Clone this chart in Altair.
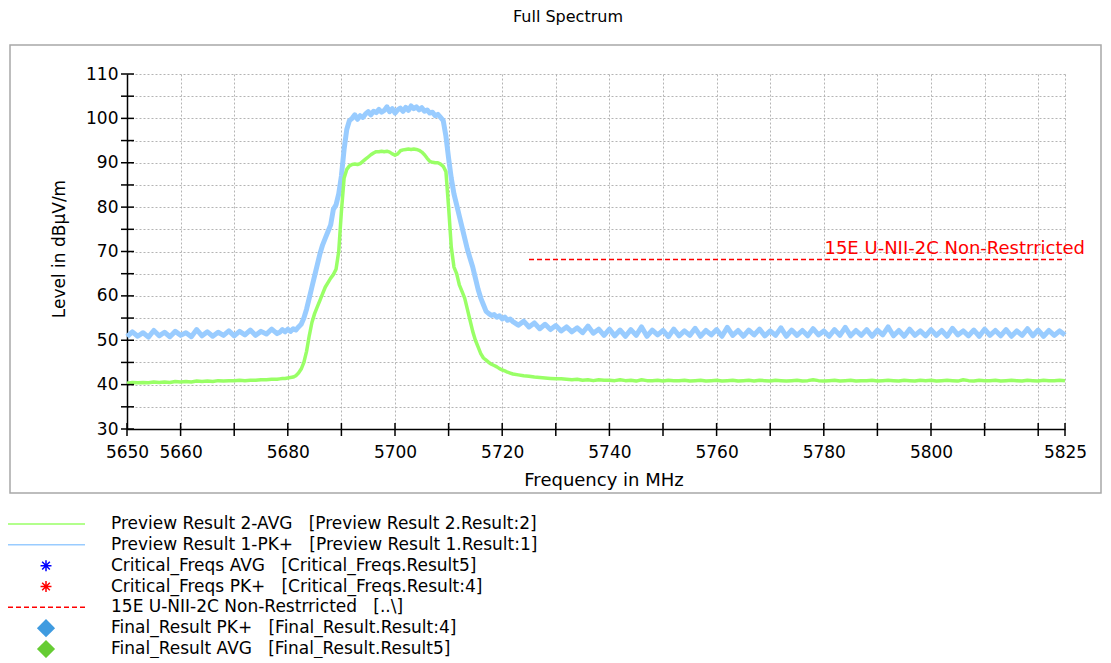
import altair as alt
import pandas as pd

FONT = "DejaVu Sans"
NB = "\u00a0"

# ---------------- data ----------------
# frequency grid (MHz): 1 MHz steps on the flat parts, 0.5 MHz across the emission
freq_a = list(range(5650, 5679))
freq_b = [5678.5 + 0.5 * i for i in range(88)]
freq_c = list(range(5723, 5826))

# Preview Result 1-PK+ (dBuV/m)
pk_a = [50.8, 51.9, 50.9, 51.7, 50.7, 52.2, 51.0, 51.8, 50.8, 52.0,
        51.1, 51.7, 50.8, 52.4, 51.0, 51.9, 50.9, 51.8, 51.1, 52.1,
        51.0, 52.0, 51.2, 52.3, 51.1, 52.0, 51.4, 52.5, 51.5]
pk_b = [51.8, 52.4, 51.9, 52.5, 52.0, 52.6, 52.3, 53.0, 53.6, 55.0,
        57.0, 59.5, 62.0, 64.5, 67.0, 69.5, 71.5, 73.0, 74.5, 76.0,
        79.5, 80.5, 83.0, 87.0, 93.0, 97.5, 99.5, 100.0, 100.8, 99.8,
        100.6, 100.2, 101.0, 101.5, 100.8, 101.6, 101.3, 102.0, 101.4, 101.8,
        102.6, 101.5, 102.2, 101.2, 101.9, 102.3, 101.6, 102.5, 101.8, 102.8,
        102.2, 102.6, 101.9, 102.4, 101.6, 101.9, 101.2, 101.4, 100.6, 100.9,
        100.2, 99.5, 96.0, 91.0, 86.5, 83.0, 80.5, 78.0, 75.5, 73.0,
        70.5, 68.5, 66.5, 64.0, 61.5, 59.5, 58.0, 56.5, 56.0, 55.6,
        55.8, 55.2, 55.5, 54.8, 55.2, 54.5, 54.8, 54.2]
pk_c = [53.4, 54.3, 53.0, 53.9, 52.6, 53.6, 52.4, 53.3, 52.1, 53.0,
        51.9, 52.8, 51.7, 53.2, 51.6, 52.5, 51.1, 52.5, 51.0, 52.3,
        50.9, 52.4, 51.1, 53.0, 50.9, 52.3, 51.2, 52.2, 50.8, 52.5,
        51.0, 52.1, 51.1, 52.7, 50.9, 52.2, 51.2, 52.4, 50.9, 52.9,
        51.1, 52.2, 50.9, 52.3, 51.2, 52.5, 51.0, 52.1, 51.1, 52.8,
        50.9, 52.3, 51.1, 52.2, 51.0, 52.6, 51.2, 52.1, 50.9, 52.4,
        51.1, 52.9, 51.0, 52.2, 51.1, 52.4, 50.9, 52.3, 51.2, 53.0,
        51.0, 52.2, 50.9, 52.5, 51.1, 52.1, 51.0, 52.4, 51.1, 52.2,
        50.9, 52.7, 51.2, 52.1, 51.0, 52.3, 50.9, 52.5, 51.1, 52.2,
        51.0, 52.4, 50.9, 52.1, 51.1, 52.6, 51.0, 52.3, 50.9, 52.2,
        51.1, 52.1, 51.2]

# Preview Result 2-AVG (dBuV/m)
avg_a = [40.3, 40.5, 40.4, 40.5, 40.4, 40.6, 40.5, 40.6, 40.5, 40.7,
         40.6, 40.7, 40.6, 40.8, 40.7, 40.8, 40.7, 40.9, 40.8, 40.9,
         40.9, 41.0, 40.9, 41.0, 41.0, 41.1, 41.1, 41.2, 41.2]
avg_b = [41.3, 41.4, 41.4, 41.5, 41.6, 41.7, 42.0, 42.6, 43.5, 45.0,
         47.5, 51.0, 54.0, 56.0, 57.5, 59.0, 60.5, 62.0, 63.0, 64.0,
         64.8, 66.0, 70.0, 79.0, 86.5, 88.5, 89.3, 89.6, 89.7, 89.6,
         89.8, 90.3, 90.8, 91.3, 91.8, 92.2, 92.5, 92.5, 92.6, 92.5,
         92.6, 92.4, 92.0, 91.7, 92.0, 92.7, 92.9, 93.0, 93.1, 93.0,
         93.1, 93.0, 92.8, 92.4, 91.8, 91.0, 90.3, 90.1, 90.0, 90.0,
         89.7, 89.2, 88.0, 80.0, 71.0, 66.5, 65.0, 62.5, 61.0, 59.5,
         57.0, 54.5, 52.0, 50.0, 48.5, 47.0, 46.0, 45.5, 45.0, 44.6,
         44.3, 44.0, 43.6, 43.3, 43.1, 42.8, 42.6, 42.4]
avg_c = [42.2, 42.0, 41.9, 41.7, 41.6, 41.5, 41.4, 41.3, 41.3, 41.2,
         41.1, 41.2, 41.0, 41.1, 40.9, 41.1, 41.0, 41.0, 40.9, 41.1,
         40.9, 41.0, 40.8, 41.1, 40.9, 40.9, 41.0, 40.8, 41.0, 40.9,
         40.9, 41.0, 40.8, 40.9, 41.0, 40.8, 40.9, 41.0, 40.8, 40.9,
         41.0, 40.8, 40.9, 41.0, 40.8, 41.0, 40.9, 40.8, 41.0, 40.9,
         40.8, 40.9, 41.0, 40.8, 40.9, 41.1, 40.9, 40.8, 40.9, 41.0,
         40.8, 40.9, 41.0, 40.8, 40.9, 40.9, 41.0, 40.8, 40.9, 41.0,
         40.9, 40.8, 41.0, 40.9, 40.8, 41.0, 40.9, 41.0, 40.8, 40.9,
         41.0, 40.9, 40.8, 41.1, 40.9, 40.8, 41.0, 40.9, 40.9, 41.0,
         40.8, 40.9, 41.0, 40.9, 40.8, 41.0, 40.9, 40.8, 41.0, 40.9,
         40.9, 41.0, 40.9]

# limit line
limit_label = "15E U-NII-2C Non-Restrricted"
limit_start = 5725
limit_end = 5825
limit_value = 68.2

# axes
x_domain = [5650, 5825]
y_domain = [30, 110]
x_grid = [5650, 5660, 5670, 5680, 5690, 5700, 5710, 5720, 5730, 5740, 5750,
          5760, 5770, 5780, 5790, 5800, 5810, 5820, 5825]
x_labels = [5650, 5660, 5680, 5700, 5720, 5740, 5760, 5780, 5800, 5825]
y_grid = [30, 35, 40, 45, 50, 55, 60, 65, 70, 75, 80, 85, 90, 95, 100, 105, 110]
y_labels = [30, 40, 50, 60, 70, 80, 90, 100, 110]

# legend
legend_labels = [
    "Preview Result 2-AVG   [Preview Result 2.Result:2]",
    "Preview Result 1-PK+   [Preview Result 1.Result:1]",
    "Critical_Freqs AVG   [Critical_Freqs.Result5]",
    "Critical_Freqs PK+   [Critical_Freqs.Result:4]",
    "15E U-NII-2C Non-Restrricted   [..\\]",
    "Final_Result PK+   [Final_Result.Result:4]",
    "Final_Result AVG   [Final_Result.Result5]",
]
legend_kind = ["line", "line", "star", "star", "dash", "diamond", "diamond"]
legend_color = ["#99ff66", "#99ccff", "#0000ff", "#ff0000", "#ff0000", "#3f9be0", "#66cc33"]

# ---------------- build ----------------
assert len(pk_a) == len(avg_a) == len(freq_a)
assert len(pk_b) == len(avg_b) == len(freq_b)
assert len(pk_c) == len(avg_c) == len(freq_c)

df = pd.DataFrame({
    "freq": freq_a + freq_b + freq_c,
    "pk": pk_a + pk_b + pk_c,
    "avg": avg_a + avg_b + avg_c,
})
limit_df = pd.DataFrame({"f1": [limit_start], "f2": [limit_end], "lv": [limit_value],
                         "label": [limit_label]})
xt_df = pd.DataFrame({"v": x_grid})
yt_df = pd.DataFrame({"v": y_grid})
leg_df = pd.DataFrame({"label": legend_labels, "kind": legend_kind, "color": legend_color})
leg_df["shown"] = leg_df["label"].str.replace(" ", NB)

W, H = 938, 355


def xs():
    return alt.Scale(domain=x_domain, nice=False, zero=False)


def ys():
    return alt.Scale(domain=y_domain, nice=False, zero=False)


def label_expr(vals):
    return "indexof([" + ",".join(str(v) for v in vals) + "], datum.value) >= 0 ? datum.label : ''"


x_axis = alt.Axis(values=x_grid, labelExpr=label_expr(x_labels), format="d", title=None,
                  grid=True, gridColor="#b4b4b4", gridDash=[2, 2], gridWidth=1,
                  ticks=False, domainColor="black", domainWidth=1.5,
                  labelFont=FONT, labelFontSize=17, labelColor="black",
                  labelPadding=15, labelFlush=False, labelOverlap=False)
y_axis = alt.Axis(values=y_grid, labelExpr=label_expr(y_labels), format="d", title=None,
                  grid=True, gridColor="#b4b4b4", gridDash=[2, 2], gridWidth=1,
                  ticks=False, domainColor="black", domainWidth=1.5,
                  labelFont=FONT, labelFontSize=17, labelColor="black",
                  labelPadding=9, labelFlush=False, labelOverlap=False)

pk_line = alt.Chart(df).mark_line(color="#99ccff", strokeWidth=5, strokeJoin="round").encode(
    x=alt.X("freq:Q", scale=xs(), axis=x_axis),
    y=alt.Y("pk:Q", scale=ys(), axis=y_axis),
)
avg_line = alt.Chart(df).mark_line(color="#99ff66", strokeWidth=3.5, strokeJoin="round").encode(
    x=alt.X("freq:Q", scale=xs(), axis=None),
    y=alt.Y("avg:Q", scale=ys(), axis=None),
)
limit_rule = alt.Chart(limit_df).mark_rule(color="#ff0000", strokeWidth=1.5, strokeDash=[5, 3]).encode(
    x=alt.X("f1:Q", scale=xs(), axis=None),
    x2="f2:Q",
    y=alt.Y("lv:Q", scale=ys(), axis=None),
)
limit_text = alt.Chart(limit_df).mark_text(color="#ff0000", font=FONT, fontSize=18, align="right",
                                           baseline="alphabetic", dx=20, dy=-5).encode(
    x=alt.X("f2:Q", scale=xs(), axis=None),
    y=alt.Y("lv:Q", scale=ys(), axis=None),
    text="label:N",
)
x_ticks = alt.Chart(xt_df).mark_rule(color="black", strokeWidth=1.5).encode(
    x=alt.X("v:Q", scale=xs(), axis=None),
    y=alt.value(H - 6), y2=alt.value(H + 7),
)
y_ticks = alt.Chart(yt_df).mark_rule(color="black", strokeWidth=1.5).encode(
    y=alt.Y("v:Q", scale=ys(), axis=None),
    x=alt.value(-6), x2=alt.value(7),
)

one = alt.Data(values=[{}])
frame = alt.Chart(one).mark_rect(fillOpacity=0, stroke="#a8a8a8", strokeWidth=1.5).encode(
    x=alt.value(-117), x2=alt.value(974), y=alt.value(-29), y2=alt.value(419),
)
title = alt.Chart(one).mark_text(text="Full Spectrum", font=FONT, fontSize=16, color="black",
                                 align="center", baseline="alphabetic").encode(
    x=alt.value(441), y=alt.value(-52))
x_title = alt.Chart(one).mark_text(text="Frequency in MHz", font=FONT, fontSize=18, color="black",
                                   align="center", baseline="middle").encode(
    x=alt.value(477), y=alt.value(407))
y_title = alt.Chart(one).mark_text(text="Level in dBµV/m", font=FONT, fontSize=17, color="black",
                                   align="center", baseline="middle", angle=270).encode(
    x=alt.value(-67), y=alt.value(175))

# legend (own point scale placing the rows below the frame)
leg_y = alt.Y("label:N", scale=alt.Scale(type="point", domain=legend_labels, range=[450, 575], padding=0),
              axis=None)
star_path = "M0,-1V1M-1,0H1M-0.7,-0.7L0.7,0.7M-0.7,0.7L0.7,-0.7"

leg_lines = alt.Chart(leg_df).transform_filter("datum.kind == 'line'").mark_rule(strokeWidth=1.5).encode(
    y=leg_y, x=alt.value(-119), x2=alt.value(-42), color=alt.Color("color:N", scale=None))
leg_dash = alt.Chart(leg_df).transform_filter("datum.kind == 'dash'").mark_rule(
    strokeWidth=1.5, strokeDash=[5, 3]).encode(
    y=leg_y, x=alt.value(-119), x2=alt.value(-42), color=alt.Color("color:N", scale=None))
leg_star = alt.Chart(leg_df).transform_filter("datum.kind == 'star'").mark_point(
    shape=star_path, filled=False, strokeWidth=1.5, size=120, opacity=1).encode(
    y=leg_y, x=alt.value(-81), color=alt.Color("color:N", scale=None))
leg_diam = alt.Chart(leg_df).transform_filter("datum.kind == 'diamond'").mark_point(
    shape="diamond", filled=True, size=330, opacity=1).encode(
    y=leg_y, x=alt.value(-81), color=alt.Color("color:N", scale=None))
leg_text = alt.Chart(leg_df).mark_text(font=FONT, fontSize=17, color="black", align="left",
                                       baseline="middle").encode(
    y=leg_y, x=alt.value(-16), text="shown:N")

chart = alt.layer(
    frame, pk_line, avg_line, limit_rule, limit_text, x_ticks, y_ticks,
    title, x_title, y_title,
    leg_lines, leg_dash, leg_star, leg_diam, leg_text,
).resolve_scale(x="independent", y="independent").properties(
    width=W, height=H,
    padding={"left": 119, "top": 66, "right": 38, "bottom": 229},
    autosize=alt.AutoSizeParams(type="none"),
).configure_view(strokeWidth=0)

chart.save("out.html", embed_options={"renderer": "svg", "actions": False})
